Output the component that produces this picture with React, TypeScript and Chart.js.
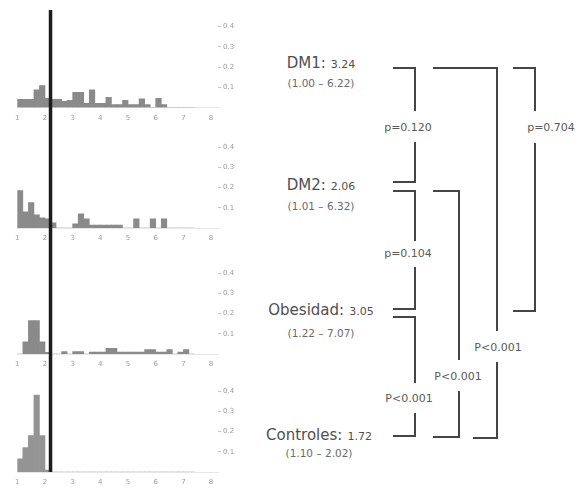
import React, { useEffect, useRef } from 'react';
import { Chart, registerables } from 'chart.js';

Chart.register(...registerables);

// ---------- DATA ----------
const binStarts = [1.0, 1.2, 1.4, 1.6, 1.8, 2.0, 2.2, 2.4, 2.6, 2.8, 3.0, 3.2, 3.4, 3.6, 3.8, 4.0,
  4.2, 4.4, 4.6, 4.8, 5.0, 5.2, 5.4, 5.6, 5.8, 6.0, 6.2, 6.4, 6.6, 6.8, 7.0, 7.2];
const binWidth = 0.2;

const dm1Freq = [0.04, 0.04, 0.04, 0.087, 0.108, 0.045, 0.04, 0.04, 0.03, 0.035, 0.075, 0.075, 0.02, 0.087, 0.02, 0.02,
  0.05, 0.015, 0.015, 0.035, 0.015, 0.015, 0.043, 0.015, 0, 0.045, 0.015, 0, 0, 0, 0, 0];
const dm2Freq = [0.185, 0.08, 0.125, 0.065, 0.05, 0.045, 0.025, 0, 0, 0, 0.02, 0.07, 0.045, 0.015, 0.015, 0.015,
  0.015, 0.015, 0.015, 0, 0, 0.045, 0, 0, 0.045, 0, 0.045, 0, 0, 0, 0, 0];
const obesidadFreq = [0, 0.06, 0.165, 0.165, 0.06, 0.008, 0, 0, 0.012, 0, 0.012, 0.012, 0, 0.01, 0.01, 0.01,
  0.028, 0.028, 0.01, 0.01, 0.01, 0.01, 0.01, 0.022, 0.022, 0.01, 0.01, 0.022, 0, 0.01, 0.022, 0];
const controlesFreq = [0.065, 0.12, 0.18, 0.38, 0.18, 0.01, 0, 0, 0, 0, 0, 0, 0, 0, 0, 0,
  0, 0, 0, 0, 0, 0, 0, 0, 0, 0, 0, 0, 0, 0, 0, 0];

const xTickValues = [1, 2, 3, 4, 5, 6, 7, 8];
const yTickValues = [0.1, 0.2, 0.3, 0.4];
const cutoffValue = 2.2;

const groupNames = ['DM1:', 'DM2:', 'Obesidad:', 'Controles:'];
const groupMedians = ['3.24', '2.06', '3.05', '1.72'];
const groupRanges = ['(1.00 – 6.22)', '(1.01 – 6.32)', '(1.22 – 7.07)', '(1.10 – 2.02)'];
const pValueLabels = ['p=0.120', 'p=0.104', 'P<0.001', 'P<0.001', 'P<0.001', 'p=0.704'];

// ---------- LAYOUT ----------
const W = 579;
const H = 496;
const PANEL_W = 245;
const panelLayout = [
  { top: 0, height: 130, padTop: 26.5, lineFrom: 10, toBaseline: false },
  { top: 130, height: 126, padTop: 17, lineFrom: 0, toBaseline: false },
  { top: 256, height: 119, padTop: 17, lineFrom: 0, toBaseline: false },
  { top: 375, height: 121, padTop: 16, lineFrom: 0, toBaseline: true },
];
const AREA_H = 81;
const panelSeries = [dm1Freq, dm2Freq, obesidadFreq, controlesFreq];

const labelLayout = [
  { cx: 321, nameY: 63, rangeY: 83 },
  { cx: 321, nameY: 185, rangeY: 206 },
  { cx: 321, nameY: 310, rangeY: 333 },
  { cx: 319, nameY: 435, rangeY: 453 },
];

// brackets: vertical x, top arm start, bottom arm start, top y, bottom y, gap, text pos
const bracketLayout = [
  { vx: 415, armT: 393, armB: 393, y0: 68, y1: 182, g0: 112, g1: 142, tx: 408, ty: 127 },
  { vx: 415, armT: 393, armB: 393, y0: 191, y1: 309, g0: 242, g1: 267, tx: 408, ty: 253 },
  { vx: 415, armT: 393, armB: 393, y0: 317, y1: 436, g0: 384, g1: 413, tx: 409, ty: 398 },
  { vx: 459, armT: 433, armB: 433, y0: 191, y1: 437, g0: 361, g1: 391, tx: 458, ty: 376 },
  { vx: 497, armT: 433, armB: 473, y0: 68, y1: 438, g0: 332, g1: 362, tx: 498, ty: 347 },
  { vx: 535, armT: 513, armB: 513, y0: 68, y1: 311, g0: 112, g1: 143, tx: 551, ty: 127 },
];

const LINE_COLOR = '#454545';
const LINE_W = 2;
const FONT = '"DejaVu Sans", "Noto Sans", sans-serif';

const cutoffPlugin = {
  id: 'cutoffLine',
  afterDraw(chart: any, _args: any, opts: any) {
    const { ctx, scales } = chart;
    const px = scales.x.getPixelForValue(opts.value);
    const yTop = opts.from;
    const yBot = opts.toBaseline ? scales.y.getPixelForValue(0) : chart.height;
    ctx.save();
    ctx.strokeStyle = '#1c1c1c';
    ctx.lineWidth = 3.5;
    ctx.beginPath();
    ctx.moveTo(px, yTop);
    ctx.lineTo(px, yBot);
    ctx.stroke();
    ctx.restore();
  },
};

function Panel({ idx }: { idx: number }) {
  const ref = useRef<HTMLCanvasElement>(null);
  const lay = panelLayout[idx];
  useEffect(() => {
    if (!ref.current) return;
    const series = panelSeries[idx];
    const axisH = lay.height - lay.padTop - AREA_H;
    const chart = new Chart(ref.current, {
      type: 'bar',
      data: {
        datasets: [
          {
            data: binStarts.map((b, i) => ({ x: b + binWidth / 2, y: series[i] })),
            backgroundColor: idx === 3 ? '#949494' : '#8a8a8a',
            borderWidth: 0,
            barPercentage: 1,
            categoryPercentage: 1,
          },
        ],
      },
      options: {
        responsive: false,
        animation: false,
        events: [],
        layout: { padding: { left: 17.3, top: lay.padTop, right: 0, bottom: 0 } },
        plugins: {
          legend: { display: false },
          tooltip: { enabled: false },
          cutoffLine: { value: cutoffValue, from: lay.lineFrom, toBaseline: lay.toBaseline },
        } as any,
        scales: {
          x: {
            type: 'linear',
            offset: false,
            min: 1,
            max: 8.25,
            afterFit: (s: any) => { s.height = axisH; },
            afterBuildTicks: (s: any) => { s.ticks = xTickValues.map((v) => ({ value: v })); },
            grid: { display: false, drawTicks: false },
            border: { display: true, color: '#e6e6e6', width: 1 },
            ticks: {
              padding: 6,
              color: '#9a9a9a',
              font: { size: 7, family: 'DejaVu Sans' },
              maxRotation: 0,
              autoSkip: false,
              callback: (v: any) => String(v),
            },
          },
          y: {
            position: 'right',
            min: 0,
            max: 0.4,
            afterFit: (s: any) => { s.width = 27; },
            afterBuildTicks: (s: any) => { s.ticks = yTickValues.map((v) => ({ value: v })); },
            grid: { display: true, drawOnChartArea: false, drawTicks: true, tickLength: 3, color: '#c4c4c4' },
            border: { display: false },
            ticks: {
              padding: 2,
              color: '#9a9a9a',
              font: { size: 7, family: 'DejaVu Sans' },
              callback: (v: any) => Number(v).toFixed(1),
            },
          },
        },
      } as any,
      plugins: [cutoffPlugin],
    });
    return () => chart.destroy();
  }, [idx]);
  return (
    <canvas
      ref={ref}
      width={PANEL_W}
      height={lay.height}
      style={{ position: 'absolute', left: 0, top: lay.top, width: PANEL_W, height: lay.height }}
    />
  );
}

function Seg({ x, y, w, h }: { x: number; y: number; w: number; h: number }) {
  return <div style={{ position: 'absolute', left: x, top: y, width: w, height: h, background: LINE_COLOR }} />;
}

const textBase: React.CSSProperties = {
  position: 'absolute',
  transform: 'translate(-50%, -50%)',
  whiteSpace: 'nowrap',
  lineHeight: 1,
  fontFamily: FONT,
};

export default function App() {
  return (
    <div style={{ position: 'absolute', left: 0, top: 0, width: W, height: H, background: '#fff', overflow: 'hidden', fontFamily: FONT }}>
      {panelLayout.map((_, i) => (
        <Panel key={i} idx={i} />
      ))}
      {groupNames.map((name, i) => (
        <React.Fragment key={name}>
          <div style={{ ...textBase, left: labelLayout[i].cx, top: labelLayout[i].nameY, color: '#4f4f4f' }}>
            <span style={{ fontSize: 15 }}>{name}</span>{' '}
            <span style={{ fontSize: 11 }}>{groupMedians[i]}</span>
          </div>
          <div style={{ ...textBase, left: labelLayout[i].cx, top: labelLayout[i].rangeY, fontSize: 10.5, color: '#6a6a6a' }}>
            {groupRanges[i]}
          </div>
        </React.Fragment>
      ))}
      {bracketLayout.map((b, i) => (
        <React.Fragment key={i}>
          <Seg x={b.armT} y={b.y0 - LINE_W / 2} w={b.vx - b.armT + LINE_W / 2} h={LINE_W} />
          <Seg x={b.armB} y={b.y1 - LINE_W / 2} w={b.vx - b.armB + LINE_W / 2} h={LINE_W} />
          <Seg x={b.vx - LINE_W / 2} y={b.y0 - LINE_W / 2} w={LINE_W} h={b.g0 - b.y0} />
          <Seg x={b.vx - LINE_W / 2} y={b.g1} w={LINE_W} h={b.y1 - b.g1 + LINE_W / 2} />
          <div style={{ ...textBase, left: b.tx, top: b.ty, fontSize: 11, color: '#5a5a5a' }}>{pValueLabels[i]}</div>
        </React.Fragment>
      ))}
    </div>
  );
}
